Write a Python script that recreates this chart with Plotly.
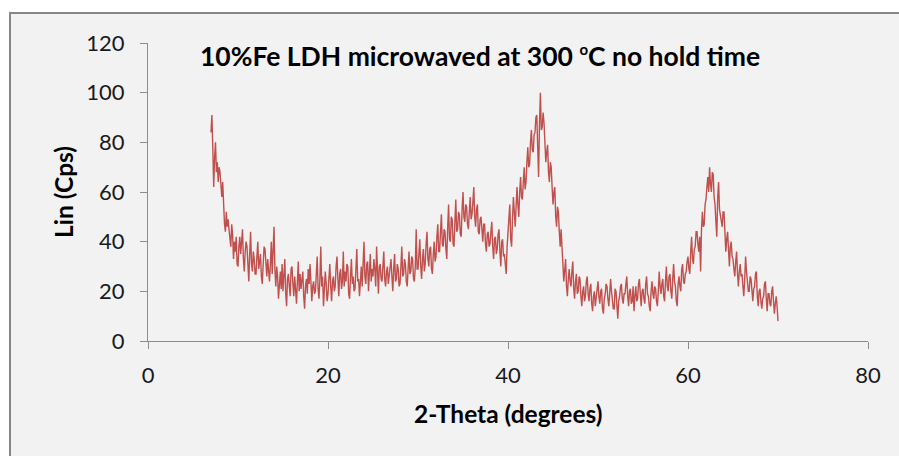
import numpy as np
import plotly.graph_objects as go

# XRD pattern values (Lin, Cps), 0.1 degree steps from 7.0 to 70.0
intensity_rows = [
    [84, 91, 78, 62, 74, 80, 68, 72, 64, 70],   # 7
    [68, 61, 58, 64, 50, 47, 44, 52, 46, 49],   # 8
    [45, 41, 38, 47, 43, 33, 40, 36, 42, 31],   # 9
    [30, 38, 42, 35, 39, 45, 33, 28, 36, 40],   # 10
    [38, 32, 24, 35, 44, 31, 28, 36, 33, 27],   # 11
    [27, 34, 40, 29, 32, 35, 26, 23, 31, 38],   # 12
    [37, 30, 26, 33, 28, 24, 31, 40, 27, 34],   # 13
    [46, 29, 22, 30, 26, 17, 24, 28, 21, 31],   # 14
    [20, 27, 33, 19, 14, 25, 27, 22, 18, 29],   # 15
    [30, 23, 18, 26, 21, 15, 24, 32, 20, 27],   # 16
    [21, 26, 28, 18, 13, 22, 25, 19, 29, 23],   # 17
    [31, 24, 16, 22, 24, 19, 20, 27, 34, 21],   # 18
    [17, 25, 38, 22, 26, 14, 19, 28, 23, 16],   # 19
    [19, 27, 31, 22, 16, 24, 26, 20, 22, 30],   # 20
    [34, 25, 18, 27, 29, 21, 24, 36, 22, 28],   # 21
    [24, 31, 30, 19, 17, 26, 33, 23, 26, 20],   # 22
    [21, 29, 37, 24, 25, 18, 27, 30, 22, 33],   # 23
    [40, 26, 23, 31, 32, 20, 28, 35, 24, 29],   # 24
    [26, 33, 29, 22, 38, 27, 19, 30, 31, 25],   # 25
    [24, 30, 36, 25, 22, 28, 30, 23, 27, 32],   # 26
    [33, 26, 20, 29, 35, 24, 25, 31, 29, 22],   # 27
    [23, 30, 38, 26, 27, 33, 31, 24, 22, 29],   # 28
    [36, 27, 28, 34, 33, 25, 24, 30, 45, 29],   # 29
    [29, 35, 41, 30, 25, 33, 37, 28, 31, 39],   # 30
    [44, 33, 30, 37, 38, 29, 27, 35, 40, 32],   # 31
    [34, 42, 47, 36, 36, 44, 51, 39, 38, 45],   # 32
    [44, 37, 33, 46, 55, 41, 40, 50, 49, 39],   # 33
    [38, 48, 57, 44, 45, 52, 51, 43, 42, 53],   # 34
    [60, 50, 48, 55, 54, 47, 45, 52, 58, 49],   # 35
    [51, 56, 62, 50, 46, 53, 55, 44, 43, 49],   # 36
    [50, 45, 40, 47, 47, 39, 36, 43, 44, 38],   # 37
    [39, 44, 48, 38, 33, 41, 42, 35, 37, 43],   # 38
    [45, 36, 30, 40, 41, 34, 35, 31, 27, 38],   # 39
    [43, 50, 55, 41, 38, 49, 58, 52, 46, 54],   # 40
    [62, 55, 50, 60, 66, 58, 57, 64, 70, 61],   # 41
    [64, 72, 78, 70, 71, 80, 85, 77, 76, 83],   # 42
    [84, 90, 91, 78, 66, 88, 100, 85, 86, 92],  # 43
    [88, 80, 72, 76, 79, 68, 64, 72, 70, 62],   # 44
    [55, 60, 62, 50, 46, 54, 52, 44, 38, 45],   # 45
    [40, 31, 24, 30, 33, 22, 18, 25, 29, 24],   # 46
    [22, 28, 32, 21, 17, 24, 27, 19, 20, 26],   # 47
    [25, 18, 14, 20, 22, 16, 18, 24, 26, 19],   # 48
    [16, 21, 23, 15, 12, 18, 20, 14, 17, 22],   # 49
    [24, 18, 15, 20, 21, 13, 11, 17, 19, 23],   # 50
    [22, 17, 14, 19, 25, 20, 17, 13, 13, 21],   # 51
    [20, 14, 9, 16, 18, 22, 23, 17, 15, 19],    # 52
    [19, 23, 26, 18, 14, 20, 21, 15, 16, 22],   # 53
    [12, 18, 22, 16, 17, 23, 25, 19, 14, 20],   # 54
    [21, 17, 15, 23, 26, 19, 18, 14, 12, 20],   # 55
    [24, 19, 17, 22, 21, 16, 14, 20, 28, 22],   # 56
    [19, 23, 25, 18, 16, 24, 30, 22, 20, 26],   # 57
    [27, 20, 17, 25, 31, 24, 22, 16, 14, 23],   # 58
    [26, 22, 20, 29, 31, 24, 23, 27, 28, 32],   # 59
    [34, 29, 27, 36, 42, 33, 31, 37, 38, 44],   # 60
    [44, 39, 36, 42, 28, 45, 52, 46, 47, 55],   # 61
    [57, 62, 66, 60, 70, 63, 60, 68, 67, 58],   # 62
    [55, 48, 42, 58, 64, 53, 50, 47, 46, 52],   # 63
    [52, 44, 36, 41, 44, 37, 30, 38, 40, 34],   # 64
    [33, 29, 26, 32, 36, 27, 22, 28, 31, 26],   # 65
    [27, 22, 18, 25, 34, 28, 24, 20, 20, 26],   # 66
    [25, 19, 16, 21, 22, 27, 28, 18, 14, 20],   # 67
    [21, 16, 13, 17, 18, 23, 24, 17, 12, 19],   # 68
    [19, 15, 14, 20, 22, 16, 11, 15, 18, 14],   # 69
    [8],                                        # 70.0
]
start_2theta = 7.0
step_2theta = 0.1

x_ticks = [0, 20, 40, 60, 80]
y_ticks = [0, 20, 40, 60, 80, 100, 120]

title_text = "10%Fe LDH microwaved at 300 <sup><span style='font-size:15px'>o</span></sup>C no hold time"
x_title = "2-Theta (degrees)"
y_title = "Lin (Cps)"

intensity = [v for row in intensity_rows for v in row]
two_theta = np.round(start_2theta + step_2theta * np.arange(len(intensity)), 2)

W, H = 899, 456
L, R, T, B = 148, 31, 43, 115
pw, ph = W - L - R, H - T - B

def px(x):
    return (x - L) / pw

def py(y):
    return (H - B - y) / ph

FONT = "Lato"

fig = go.Figure()
fig.add_trace(go.Scatter(
    x=two_theta, y=intensity, mode="lines",
    line=dict(color="#c0504d", width=1.4),
    showlegend=False, hoverinfo="skip",
))

axis_common = dict(
    showgrid=False, zeroline=False, showline=True, linecolor="#8c8c8c", linewidth=1,
    ticks="outside", ticklen=7, tickcolor="#8c8c8c", tickwidth=1,
    tickfont=dict(family=FONT, size=22, color="#1a1a1a"),
)

fig.update_layout(
    width=W, height=H,
    margin=dict(l=L, r=R, t=T, b=B, pad=0),
    paper_bgcolor="white",
    plot_bgcolor="rgba(0,0,0,0)",
    xaxis=dict(range=[0, 80], tickvals=x_ticks, ticklabelstandoff=8, **axis_common),
    yaxis=dict(range=[0, 120], tickvals=y_ticks, ticklabelstandoff=11, **axis_common),
    shapes=[dict(
        type="rect", xref="paper", yref="paper", layer="below",
        x0=px(10), x1=px(910), y0=py(470), y1=py(13),
        fillcolor="#f2f2f2", line=dict(color="#868686", width=2),
    )],
    annotations=[
        dict(text="<b>" + title_text + "</b>", xref="paper", yref="paper",
             x=px(480), y=py(56), xanchor="center", yanchor="middle", showarrow=False,
             font=dict(family=FONT, size=26.5, color="black")),
        dict(text="<b>" + x_title + "</b>", xref="paper", yref="paper",
             x=px(508), y=py(413), xanchor="center", yanchor="middle", showarrow=False,
             font=dict(family=FONT, size=24.5, color="black")),
        dict(text="<b>" + y_title + "</b>", xref="paper", yref="paper",
             x=px(63), y=py(192), xanchor="center", yanchor="middle", showarrow=False,
             textangle=-90, font=dict(family=FONT, size=24.5, color="black")),
    ],
)

fig.write_html("out.html")
